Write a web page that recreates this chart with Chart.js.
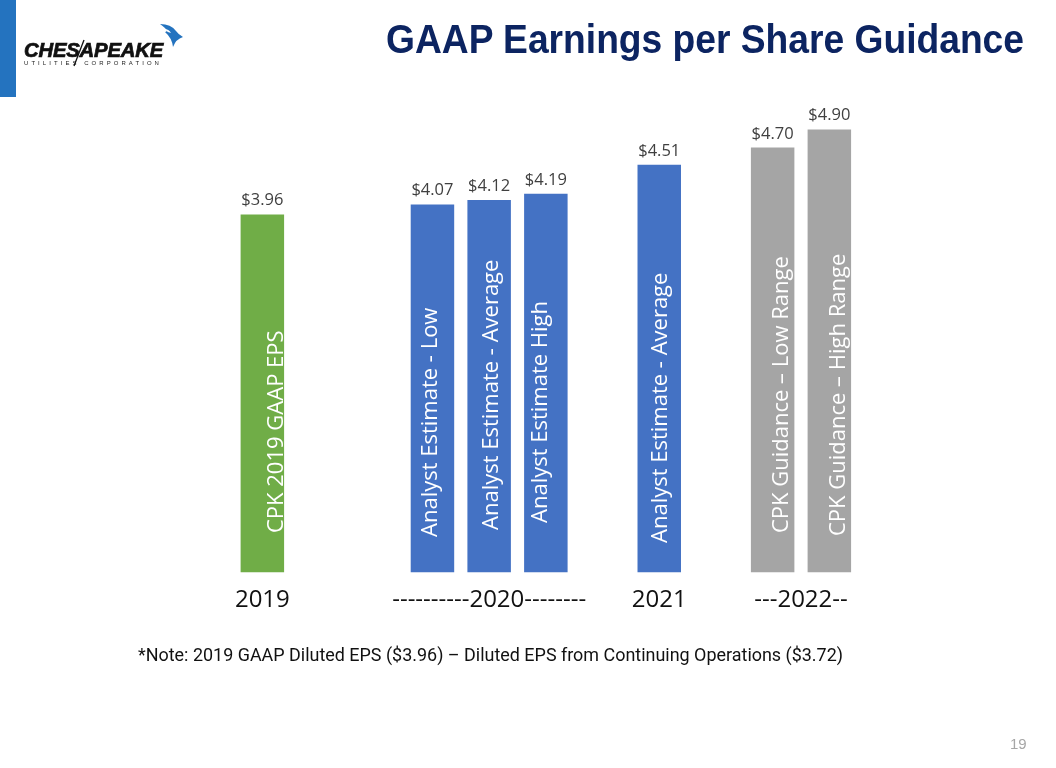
<!DOCTYPE html>
<html>
<head>
<meta charset="utf-8">
<script src="https://cdn.jsdelivr.net/npm/chart.js@4.4.1/dist/chart.umd.min.js"></script>
<style>
  html, body { margin: 0; padding: 0; background: #fff; }
  #page { position: relative; width: 1056px; height: 768px; overflow: hidden; background: #fff; }
  #c { position: absolute; left: 0; top: 0; }
  .fit { position: absolute; white-space: nowrap; transform-origin: 0 0; }
  #title { left: 386px; top: 19px; font: bold 41px/41px "Liberation Sans", Arial, sans-serif; color: #0c2461; }
  #note { left: 138px; top: 645px; font: 19px/19px Roboto, "Open Sans", sans-serif; color: #111; }
  #pagenum { left: 1010px; top: 736px; font: 15px/15px "Liberation Sans", Arial, sans-serif; color: #a6a6a6; }
  #strip { position: absolute; left: 0; top: 0; width: 16px; height: 97px; background: #2473bf; }
  #logo1 { left: 24px; top: 40px; font: italic bold 20px/20px "Liberation Sans", Arial, sans-serif; color: #111; -webkit-text-stroke: 0.7px #111; letter-spacing: -0.2px; }
  #logo2 { left: 24px; top: 59.5px; font: 6px/6px "Liberation Sans", Arial, sans-serif; color: #222; letter-spacing: 3.1px; }
  #bird { position: absolute; left: 150px; top: 18px; }
  #slash { position: absolute; left: 60px; top: 38px; }
</style>
</head>
<body>
<div id="page">
  <canvas id="c" width="1056" height="768"></canvas>
  <div id="strip"></div>
  <div id="logo1" class="fit" data-w="139">CHESAPEAKE</div>
  <div id="logo2" class="fit" data-w="138">UTILITIES CORPORATION</div>
  <svg id="slash" width="30" height="30" viewBox="60 38 30 30">
    <path d="M84,40 L74,66" stroke="#111" stroke-width="1.3"/>
  </svg>
  <svg id="bird" width="40" height="34" viewBox="150 18 40 34">
    <path d="M160,24 Q171,24 176,31 Q178,34 183,37 Q176,39 173,47 Q172,38 165,32 Q170,31 160,24 Z" fill="#2473bf"/>
    <path d="M164,29 Q169,29 171,33 Q167,32 164,29 Z" fill="#ffffff"/>
  </svg>
  <div id="title" class="fit" data-w="638">GAAP Earnings per Share Guidance</div>
  <div id="note" class="fit" data-w="705">*Note: 2019 GAAP Diluted EPS ($3.96) – Diluted EPS from Continuing Operations ($3.72)</div>
  <div id="pagenum" class="fit">19</div>
</div>
<script>
// ---------------- data ----------------
const categories = [
  "CPK 2019 GAAP EPS", "", "",
  "Analyst Estimate - Low", "Analyst Estimate - Average", "Analyst Estimate High", "",
  "Analyst Estimate - Average", "",
  "CPK Guidance – Low Range", "CPK Guidance – High Range"
];
const eps = [3.96, null, null, 4.07, 4.12, 4.19, null, 4.51, null, 4.70, 4.90];
const yearLabels = ["2019", "----------2020--------", "2021", "---2022--"];
const yearSpans = [[0, 0], [3, 5], [7, 7], [9, 10]];

// ---------------- styles / layout ----------------
const groupColors = ["#70AD47", "#4472C4", "#4472C4", "#A5A5A5"];
function colorFor(i) {
  for (let g = 0; g < yearSpans.length; g++) {
    if (i >= yearSpans[g][0] && i <= yearSpans[g][1]) return groupColors[g];
  }
  return "#4472C4";
}
// nudges for the in-bar rotated captions: [dx from bar centre to baseline, dy from axis base]
const captionNudge = {0: [20.6, -39.5], 3: [4.2, -35.5], 4: [8.5, -42.5], 5: [0.7, -49.5],
                      7: [7.4, -29.5], 9: [15, -39.5], 10: [15.2, -36.5]};

// fit text widths
document.querySelectorAll('.fit[data-w]').forEach(el => {
  const w = el.getBoundingClientRect().width;
  const target = parseFloat(el.dataset.w);
  el.style.transform = 'scaleX(' + (target / w) + ')';
});

const labelPlugin = {
  id: 'labels',
  afterDatasetsDraw(chart) {
    const ctx = chart.ctx;
    const meta = chart.getDatasetMeta(0);
    const base = chart.chartArea.bottom;
    ctx.save();
    meta.data.forEach((bar, i) => {
      if (eps[i] == null) return;
      // value labels
      ctx.font = '16.5px "Open Sans", sans-serif';
      ctx.fillStyle = '#404040';
      ctx.textAlign = 'center';
      ctx.textBaseline = 'alphabetic';
      ctx.fillText('$' + eps[i].toFixed(2), bar.x, bar.y - 9);
      // rotated captions
      const n = captionNudge[i] || [5, -38];
      ctx.save();
      ctx.translate(bar.x + n[0], base + n[1]);
      ctx.rotate(-Math.PI / 2);
      ctx.font = '22px "Open Sans", sans-serif';
      ctx.fillStyle = '#ffffff';
      ctx.textAlign = 'left';
      ctx.textBaseline = 'alphabetic';
      ctx.fillText(categories[i], 0, 0);
      ctx.restore();
    });
    // year group labels
    const xs = chart.scales.x;
    ctx.font = '24px "Open Sans", sans-serif';
    ctx.fillStyle = '#111111';
    ctx.textAlign = 'center';
    ctx.textBaseline = 'alphabetic';
    yearLabels.forEach((lab, k) => {
      const x = (xs.getPixelForValue(yearSpans[k][0]) + xs.getPixelForValue(yearSpans[k][1])) / 2;
      ctx.fillText(lab, x, base + 34.5);
    });
    ctx.restore();
  }
};

new Chart(document.getElementById('c'), {
  type: 'bar',
  data: {
    labels: categories,
    datasets: [{
      data: eps,
      backgroundColor: eps.map((v, i) => colorFor(i)),
      borderWidth: 0,
      barPercentage: 0.767,
      categoryPercentage: 1.0
    }]
  },
  options: {
    responsive: false,
    devicePixelRatio: 1,
    animation: false,
    layout: { padding: { left: 234, right: 198.3, top: 102.3, bottom: 195.5 } },
    plugins: { legend: { display: false }, tooltip: { enabled: false } },
    scales: {
      x: { type: 'category', display: false, offset: true },
      y: { display: false, min: 0, max: 5.2 }
    }
  },
  plugins: [labelPlugin]
});
</script>
</body>
</html>
